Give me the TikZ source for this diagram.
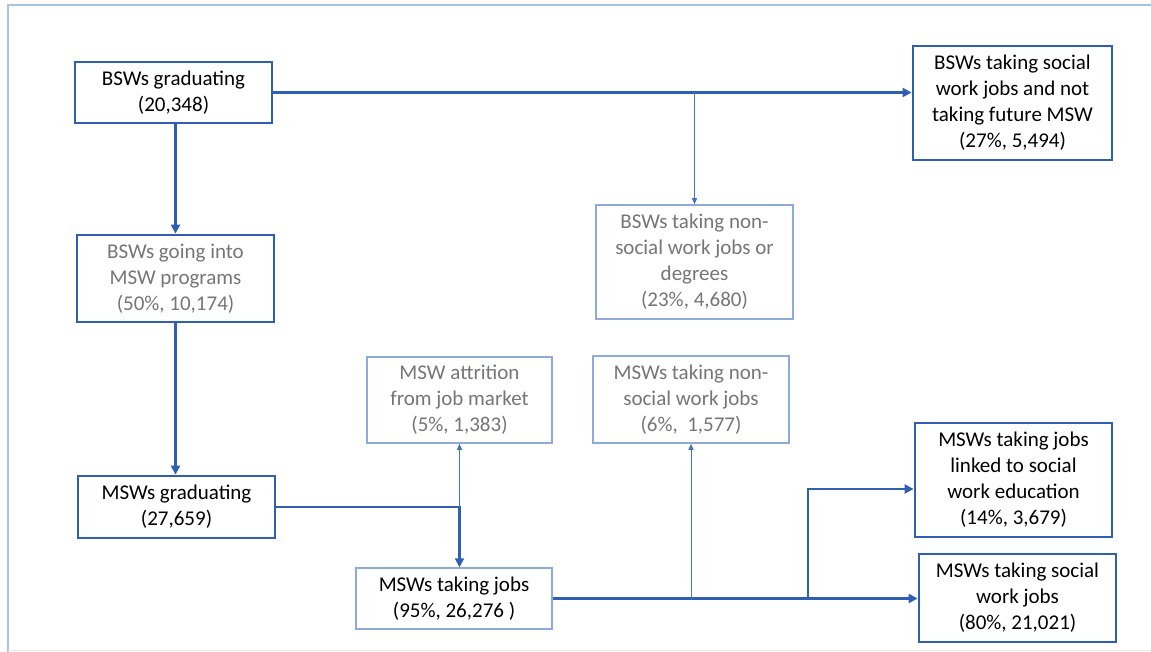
\documentclass[tikz,border=0pt]{standalone}
\usepackage{fontspec}
\setmainfont{Carlito}
\usetikzlibrary{arrows.meta,calc}
\definecolor{thickblue}{HTML}{2F5FB3}
\definecolor{thinblue}{HTML}{8EA9DB}
\definecolor{lineblue}{HTML}{4472C4}
\definecolor{framecol}{HTML}{A9C2E6}
\definecolor{graytext}{HTML}{767676}
\tikzset{
  boxbase/.style={rectangle, align=center, inner sep=0pt,
    font=\fontsize{21}{26}\selectfont},
  mainbox/.style={boxbase, draw=thickblue, line width=2.8pt, text=black},
  sidebox/.style={boxbase, draw=thinblue, line width=1.5pt, text=graytext},
  thickflow/.style={draw=thickblue, line width=2.8pt,
    -{Triangle[length=9pt,width=9pt]}},
  thinflow/.style={draw=lineblue, line width=1pt,
    -{Triangle[length=6pt,width=5pt]}}
}
\begin{document}
\begin{tikzpicture}[x=1pt,y=-1pt]
\useasboundingbox (0,0) rectangle (1151,652);
\fill[white] (0,0) rectangle (1151,652);
\draw[framecol, line width=2.5pt] (8,652) -- (8,5) -- (1151,5);
\draw[black!8, line width=1pt] (8,650) -- (1151,650);

\node[mainbox, minimum width=197pt, minimum height=61pt] (bg) at (173.5,92.5)
  {BSWs graduating\\(20,348)};
\node[mainbox, minimum width=199pt, minimum height=114pt] (bsj) at (1012.5,103)
  {BSWs taking social\\work jobs and not\\taking future MSW\\(27\%, 5,494)};
\node[mainbox, text=graytext, minimum width=197pt, minimum height=87pt] (bgm) at (175.5,278.5)
  {BSWs going into\\MSW programs\\(50\%, 10,174)};
\node[sidebox, minimum width=197pt, minimum height=114pt] (bns) at (694.5,262)
  {BSWs taking non-\\social work jobs or\\degrees\\(23\%, 4,680)};
\node[sidebox, minimum width=185pt, minimum height=86pt] (att) at (459.5,400)
  {MSW attrition\\from job market\\(5\%, 1,383)};
\node[mainbox, minimum width=197pt, minimum height=62pt] (mg) at (176.5,507)
  {MSWs graduating\\(27,659)};
\node[sidebox, text=black, minimum width=196pt, minimum height=61pt] (mj) at (454,598.5)
  {MSWs taking jobs\\(95\%, 26,276 )};
\node[sidebox, minimum width=196pt, minimum height=87pt] (mns) at (691,399.5)
  {MSWs taking non-\\social work jobs\\(6\%,\ \ 1,577)};
\node[mainbox, minimum width=197pt, minimum height=114pt] (mle) at (1013.5,480)
  {MSWs taking jobs\\linked to social\\work education\\(14\%, 3,679)};
\node[mainbox, minimum width=197pt, minimum height=88pt] (msj) at (1017.5,598)
  {MSWs taking social\\work jobs\\(80\%, 21,021)};

\coordinate (k) at (808,489);

% top row
\draw[thickflow] (bg.east) -- (bg.east -| bsj.west);
\draw[thinflow] (bg.east -| bns.north) -- (bns.north);
% left column
\draw[thickflow] (bgm.north |- bg.south) -- (bgm.north);
\draw[thickflow] (bgm.south) -- (bgm.south |- mg.north);
% MSW graduating to jobs
\draw[thickflow] (mg.east) -- (mg.east -| att.south) -- (att.south |- mj.north);
\draw[thinflow] (mg.east -| att.south) -- (att.south);
% MSW jobs outcomes
\draw[thickflow] (mj.east) -- (mj.east -| msj.west);
\draw[thinflow] (mj.east -| mns.south) -- (mns.south);
\draw[thickflow] (k |- mj.east) -- (k) -- (k -| mle.west);
\end{tikzpicture}
\end{document}
